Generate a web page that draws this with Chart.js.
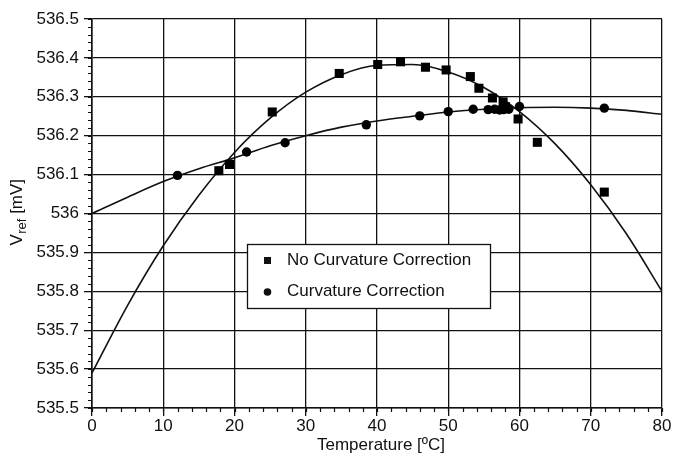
<!DOCTYPE html>
<html>
<head>
<meta charset="utf-8">
<script src="https://cdn.jsdelivr.net/npm/chart.js@4.4.0/dist/chart.umd.min.js"></script>
<style>
  html, body { margin: 0; padding: 0; background: #fff; }
  #wrap { width: 673px; height: 458px; position: relative; }
</style>
</head>
<body>
<div id="wrap"><canvas id="c" width="673" height="458"></canvas></div>
<script>
// ---- Data ----
const seriesLabels = ['No Curvature Correction', 'Curvature Correction'];

// measured points, no curvature correction (squares)
const tempNoCorr = [17.8, 19.3, 25.3, 34.7, 40.1, 43.3, 46.8, 49.7, 53.1, 54.3, 56.2, 57.7, 58.0, 59.8, 62.5, 71.9];
const vrefNoCorr = [536.11, 536.126, 536.261, 536.36, 536.383, 536.39, 536.376, 536.369, 536.352, 536.322, 536.297, 536.287, 536.275, 536.243, 536.183, 536.055];

// measured points, curvature correction (circles)
const tempCorr = [12.0, 21.7, 27.1, 38.5, 46.0, 50.0, 53.5, 55.6, 56.5, 57.2, 57.8, 58.5, 60.0, 71.9];
const vrefCorr = [536.098, 536.158, 536.182, 536.228, 536.251, 536.262, 536.268, 536.267, 536.268, 536.266, 536.267, 536.268, 536.275, 536.271];

// fitted curve, no curvature correction
const fitTempNoCorr = [0, 5, 10, 15, 20, 25, 30, 35, 40, 45, 50, 55, 60, 65, 70, 75, 80];
const fitVrefNoCorr = [535.59, 535.764, 535.917, 536.047, 536.157, 536.245, 536.312, 536.357, 536.381, 536.383, 536.364, 536.324, 536.262, 536.179, 536.074, 535.948, 535.80];

// fitted curve, curvature correction
const fitTempCorr = [0, 5, 10, 15, 20, 25, 30, 35, 40, 45, 50, 55, 60, 65, 70, 75, 80];
const fitVrefCorr = [536.0, 536.042, 536.082, 536.115, 536.143, 536.174, 536.2, 536.222, 536.238, 536.25, 536.261, 536.268, 536.272, 536.273, 536.271, 536.265, 536.255];

// axis ticks
const xTicks = [0, 10, 20, 30, 40, 50, 60, 70, 80];
const yTicks = [535.5, 535.6, 535.7, 535.8, 535.9, 536.0, 536.1, 536.2, 536.3, 536.4, 536.5];
const xMinorStep = 2;
const yMinorStep = 0.02;

const xTitle = 'Temperature [ºC]';
const yTitleMain = 'V';
const yTitleSub = 'ref';
const yTitleRest = ' [mV]';

// ---- build ----
const toXY = (xs, ys) => xs.map((x, i) => ({ x: x, y: ys[i] }));
const FONT = '"Liberation Sans", Arial, Helvetica, sans-serif';
const INK = '#111';

const extras = {
  id: 'extras',
  afterDraw(chart) {
    const { ctx, chartArea: a, scales } = chart;
    const xs = scales.x, ys = scales.y;
    ctx.save();
    ctx.strokeStyle = INK;
    ctx.lineWidth = 1.2;
    ctx.beginPath();
    for (let v = xs.min; v <= xs.max + 1e-9; v += xMinorStep) {
      const px = Math.round(xs.getPixelForValue(v)) + 0.5;
      ctx.moveTo(px, a.bottom);
      ctx.lineTo(px, a.bottom + 4);
    }
    for (let v = ys.min; v <= ys.max + 1e-9; v += yMinorStep) {
      const py = Math.round(ys.getPixelForValue(v)) + 0.5;
      ctx.moveTo(a.left - 4, py);
      ctx.lineTo(a.left, py);
    }
    ctx.stroke();

    // x axis title
    ctx.fillStyle = INK;
    ctx.font = '17px ' + FONT;
    ctx.textAlign = 'center';
    ctx.textBaseline = 'middle';
    ctx.fillText(xTitle, (a.left + a.right) / 2 + 4, 445);

    // y axis title with subscript
    const cx = 17.5, cy = (a.top + a.bottom) / 2 - 1;
    ctx.translate(cx, cy);
    ctx.rotate(-Math.PI / 2);
    ctx.textBaseline = 'middle';
    const mainF = '17px ' + FONT, subF = '13px ' + FONT;
    ctx.font = mainF;
    const w1 = ctx.measureText(yTitleMain).width;
    const w3 = ctx.measureText(yTitleRest).width;
    ctx.font = subF;
    const w2 = ctx.measureText(yTitleSub).width;
    let x0 = -(w1 + w2 + w3) / 2;
    ctx.textAlign = 'left';
    ctx.font = mainF;
    ctx.fillText(yTitleMain, x0, 0);
    ctx.font = subF;
    ctx.fillText(yTitleSub, x0 + w1 + 0.5, 5);
    ctx.font = mainF;
    ctx.fillText(yTitleRest, x0 + w1 + w2 + 0.5, 0);
    ctx.restore();

    // legend box
    const lx = a.left + 155, ly = a.top + 225, lw = 243, lh = 64;
    ctx.save();
    ctx.fillStyle = '#fff';
    ctx.fillRect(lx, ly, lw, lh);
    ctx.strokeStyle = INK;
    ctx.lineWidth = 1.3;
    ctx.strokeRect(lx + 0.5, ly + 0.5, lw, lh);
    ctx.fillStyle = INK;
    ctx.font = '17px ' + FONT;
    ctx.textBaseline = 'middle';
    ctx.textAlign = 'left';
    // square
    ctx.fillRect(lx + 17, ly + 13, 7, 7);
    ctx.fillText(seriesLabels[0], lx + 40, ly + 16);
    // circle
    ctx.beginPath();
    ctx.arc(lx + 20.5, ly + 48, 3.8, 0, Math.PI * 2);
    ctx.fill();
    ctx.fillText(seriesLabels[1], lx + 40, ly + 47);
    ctx.restore();
  }
};

new Chart(document.getElementById('c'), {
  type: 'scatter',
  data: {
    datasets: [
      {
        label: seriesLabels[0] + ' fit',
        data: toXY(fitTempNoCorr, fitVrefNoCorr),
        showLine: true, pointRadius: 0, borderColor: INK, borderWidth: 1.6,
        cubicInterpolationMode: 'monotone', fill: false, order: 2
      },
      {
        label: seriesLabels[1] + ' fit',
        data: toXY(fitTempCorr, fitVrefCorr),
        showLine: true, pointRadius: 0, borderColor: INK, borderWidth: 1.6,
        cubicInterpolationMode: 'monotone', fill: false, order: 2
      },
      {
        label: seriesLabels[0],
        data: toXY(tempNoCorr, vrefNoCorr),
        pointStyle: 'rect', pointRadius: 6.4, pointBackgroundColor: '#000',
        pointBorderColor: '#000', pointBorderWidth: 0, showLine: false, order: 1
      },
      {
        label: seriesLabels[1],
        data: toXY(tempCorr, vrefCorr),
        pointStyle: 'circle', pointRadius: 4.7, pointBackgroundColor: '#000',
        pointBorderColor: '#000', pointBorderWidth: 0, showLine: false, order: 1
      }
    ]
  },
  options: {
    responsive: false,
    animation: false,
    devicePixelRatio: 1,
    layout: { padding: { left: 0, top: 19, right: 11, bottom: 0 } },
    plugins: { legend: { display: false }, tooltip: { enabled: false } },
    scales: {
      x: {
        type: 'linear', min: 0, max: 80,
        afterBuildTicks: s => { s.ticks = xTicks.map(v => ({ value: v })); },
        afterFit: s => { s.height = 50; },
        ticks: { color: INK, font: { family: FONT, size: 17 }, padding: 0, maxRotation: 0,
                 callback: v => String(v) },
        grid: { color: INK, lineWidth: 1.3, tickLength: 8, tickColor: INK, tickWidth: 1.3 },
        border: { color: INK, width: 1.6 },
        title: { display: false }
      },
      y: {
        type: 'linear', min: 535.5, max: 536.5,
        afterBuildTicks: s => { s.ticks = yTicks.map(v => ({ value: v })); },
        afterFit: s => { s.width = 92; },
        ticks: { color: INK, font: { family: FONT, size: 17 }, padding: 5,
                 callback: v => String(Number(v.toFixed(1))) },
        grid: { color: INK, lineWidth: 1.3, tickLength: 8, tickColor: INK, tickWidth: 1.3 },
        border: { color: INK, width: 1.6 }
      }
    }
  },
  plugins: [extras]
});
</script>
</body>
</html>
